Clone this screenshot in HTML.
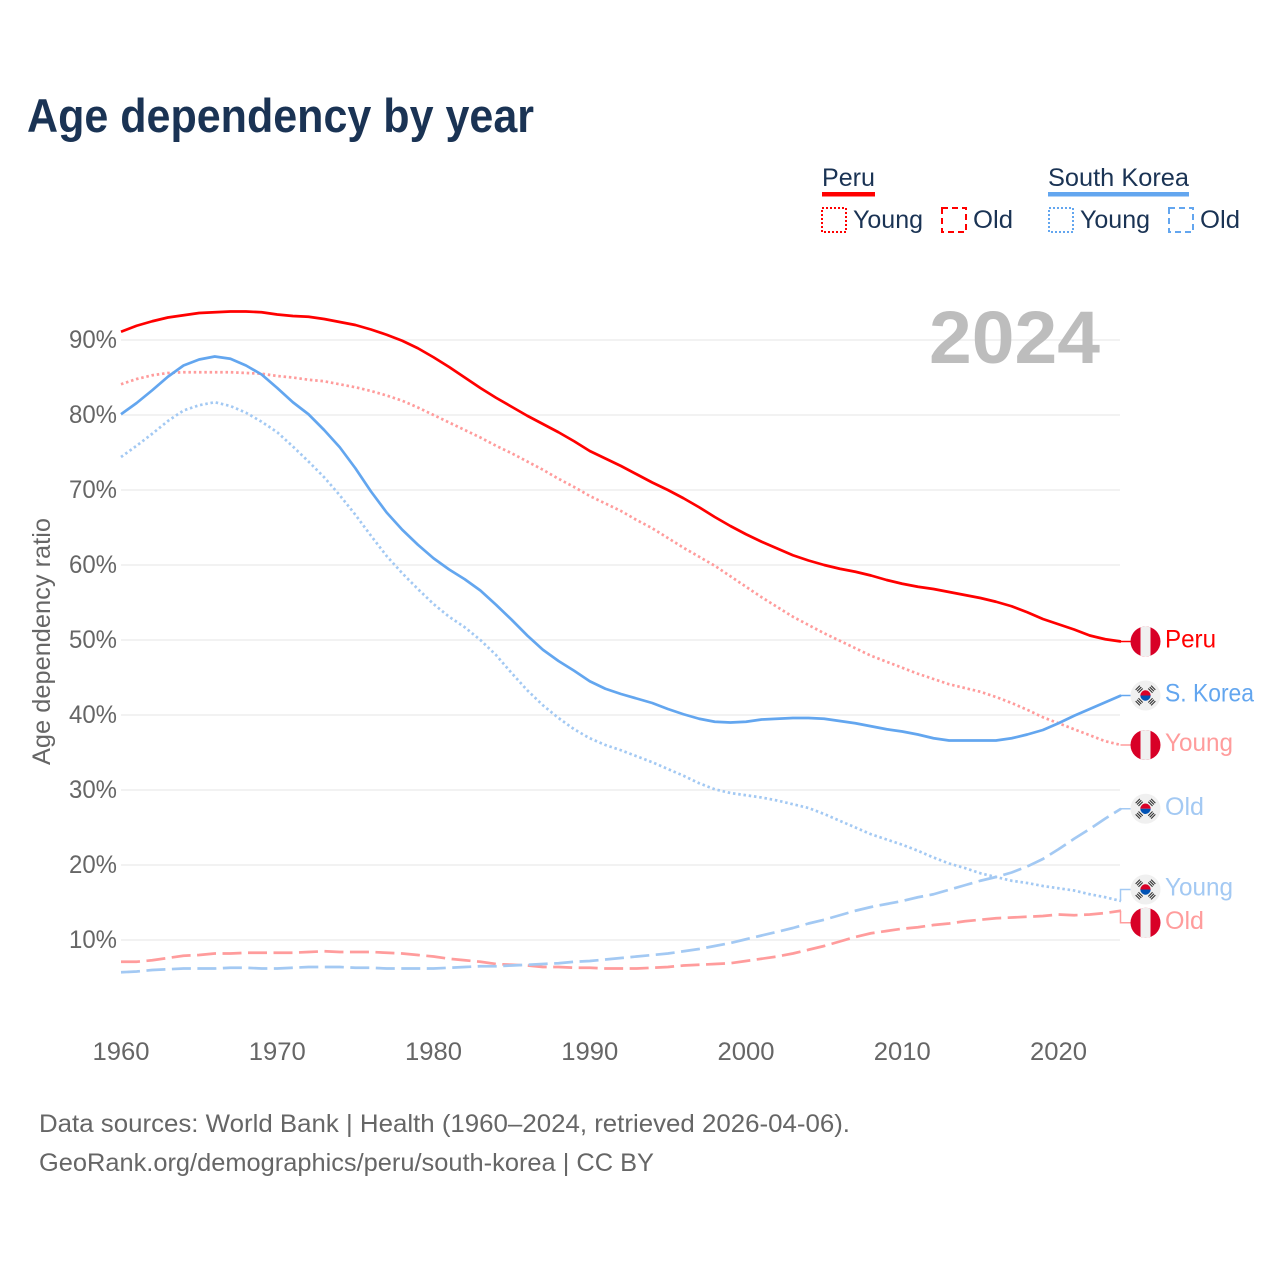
<!DOCTYPE html>
<html lang="en">
<head>
<meta charset="utf-8">
<title>Age dependency by year</title>
<style>
html,body{margin:0;padding:0;background:#fff;}
svg{display:block;font-family:"Liberation Sans",sans-serif;}
.grid{stroke:#eeeeee;stroke-width:1.5;}
.axis-text{fill:#666666;font-size:25px;}
.legend-text{fill:#1a3354;font-size:25px;}
.end-label{font-size:25px;}
</style>
</head>
<body>
<svg id="chart" xmlns="http://www.w3.org/2000/svg" width="1280" height="1280" viewBox="0 0 1280 1280">
  <rect width="1280" height="1280" fill="#ffffff"/>
  <text x="27" y="132" font-size="47" font-weight="700" fill="#1a3354" textLength="507" lengthAdjust="spacingAndGlyphs">Age dependency by year</text>

  <g>
    <g>
      <text class="legend-text" x="822" y="186" textLength="53" lengthAdjust="spacingAndGlyphs">Peru</text>
      <rect x="822" y="192" width="53" height="4.5" fill="#ff0000"/>
      <rect x="822" y="208" width="24" height="24" fill="none" stroke="#ff0000" stroke-width="2" stroke-dasharray="2 2"/>
      <text class="legend-text" x="853" y="228" textLength="70" lengthAdjust="spacingAndGlyphs">Young</text>
      <rect x="942" y="208" width="24" height="24" fill="none" stroke="#ff0000" stroke-width="2" stroke-dasharray="6 4"/>
      <text class="legend-text" x="973" y="228" textLength="40" lengthAdjust="spacingAndGlyphs">Old</text>
    </g>
    <g>
      <text class="legend-text" x="1048" y="186" textLength="141" lengthAdjust="spacingAndGlyphs">South Korea</text>
      <rect x="1048" y="192" width="141" height="4.5" fill="#63a6ef"/>
      <rect x="1049" y="208" width="24" height="24" fill="none" stroke="#63a6ef" stroke-width="2" stroke-dasharray="2 2"/>
      <text class="legend-text" x="1080" y="228" textLength="70" lengthAdjust="spacingAndGlyphs">Young</text>
      <rect x="1169" y="208" width="24" height="24" fill="none" stroke="#63a6ef" stroke-width="2" stroke-dasharray="6 4"/>
      <text class="legend-text" x="1200" y="228" textLength="40" lengthAdjust="spacingAndGlyphs">Old</text>
    </g>
  </g>

  <g id="grid-layer"></g>
  <text x="929" y="363" font-size="74" font-weight="700" fill="#bdbdbd" textLength="171" lengthAdjust="spacingAndGlyphs">2024</text>
  <g id="tick-layer"></g>
  <text class="axis-text" transform="translate(50,641.5) rotate(-90)" text-anchor="middle" textLength="247" lengthAdjust="spacingAndGlyphs">Age dependency ratio</text>
  <g id="series-layer"></g>
  <g id="label-layer"></g>

  <text class="axis-text" x="39" y="1132" textLength="811" lengthAdjust="spacingAndGlyphs">Data sources: World Bank | Health (1960–2024, retrieved 2026-04-06).</text>
  <text class="axis-text" x="39" y="1171" textLength="615" lengthAdjust="spacingAndGlyphs">GeoRank.org/demographics/peru/south-korea | CC BY</text>
</svg>

<script>
const firstYear = 1960;
const xTicks = [1960, 1970, 1980, 1990, 2000, 2010, 2020];
const yTicks = [10, 20, 30, 40, 50, 60, 70, 80, 90];

const peruTotal = [91.1,91.9,92.5,93.0,93.3,93.6,93.7,93.8,93.8,93.7,
  93.4,93.2,93.1,92.8,92.4,92.0,91.4,90.7,89.9,88.9,
  87.7,86.4,85.0,83.6,82.3,81.1,79.9,78.8,77.7,76.5,
  75.2,74.2,73.2,72.1,71.0,70.0,68.9,67.7,66.4,65.2,
  64.1,63.1,62.2,61.3,60.6,60.0,59.5,59.1,58.6,58.0,
  57.5,57.1,56.8,56.4,56.0,55.6,55.1,54.5,53.7,52.8,
  52.1,51.4,50.6,50.1,49.8];
const peruYoung = [84.1,84.8,85.3,85.6,85.7,85.7,85.7,85.7,85.6,85.5,
  85.2,85.0,84.7,84.5,84.1,83.7,83.2,82.6,81.9,81.0,
  80.0,79.0,78.0,77.0,75.9,74.9,73.8,72.7,71.5,70.4,
  69.2,68.2,67.2,66.0,64.9,63.6,62.3,61.1,59.9,58.5,
  57.1,55.7,54.4,53.1,52.0,50.9,49.9,48.9,47.9,47.1,
  46.3,45.5,44.8,44.1,43.6,43.1,42.4,41.6,40.7,39.7,
  38.9,38.1,37.3,36.5,36.0];
const peruOld = [7.1,7.1,7.3,7.6,7.9,8.0,8.2,8.2,8.3,8.3,
  8.3,8.3,8.4,8.5,8.4,8.4,8.4,8.3,8.2,8.0,
  7.8,7.5,7.3,7.1,6.8,6.7,6.6,6.4,6.4,6.3,
  6.3,6.2,6.2,6.2,6.3,6.4,6.6,6.7,6.8,6.9,
  7.2,7.5,7.8,8.2,8.7,9.2,9.8,10.4,10.9,11.2,
  11.5,11.7,12.0,12.2,12.5,12.7,12.9,13.0,13.1,13.2,
  13.4,13.3,13.4,13.6,13.9];
const koreaTotal = [80.1,81.6,83.3,85.1,86.6,87.4,87.8,87.5,86.6,85.4,
  83.6,81.7,80.1,78.0,75.7,72.9,69.8,67.0,64.7,62.7,
  60.9,59.4,58.1,56.6,54.7,52.7,50.6,48.7,47.2,45.9,
  44.5,43.5,42.8,42.2,41.6,40.8,40.1,39.5,39.1,39.0,
  39.1,39.4,39.5,39.6,39.6,39.5,39.2,38.9,38.5,38.1,
  37.8,37.4,36.9,36.6,36.6,36.6,36.6,36.9,37.4,38.0,
  38.9,39.9,40.8,41.7,42.6];
const koreaYoung = [74.4,75.9,77.5,79.2,80.6,81.3,81.7,81.2,80.3,79.1,
  77.7,75.8,73.8,71.7,69.3,66.7,63.9,61.2,58.9,56.8,
  54.8,53.1,51.7,50.0,48.0,45.6,43.3,41.3,39.6,38.1,
  36.9,36.0,35.3,34.5,33.7,32.8,31.9,30.9,30.1,29.6,
  29.3,29.0,28.6,28.1,27.6,26.8,25.9,25.0,24.1,23.4,
  22.7,21.9,21.0,20.2,19.6,18.9,18.4,17.9,17.6,17.2,
  16.9,16.6,16.1,15.7,15.2];
const koreaOld = [5.7,5.8,6.0,6.1,6.2,6.2,6.2,6.3,6.3,6.2,
  6.2,6.3,6.4,6.4,6.4,6.3,6.3,6.2,6.2,6.2,
  6.2,6.3,6.4,6.5,6.5,6.6,6.7,6.8,6.9,7.1,
  7.2,7.4,7.6,7.8,8.0,8.2,8.5,8.8,9.2,9.6,
  10.1,10.6,11.1,11.6,12.2,12.7,13.3,13.9,14.4,14.8,
  15.2,15.7,16.1,16.7,17.3,17.9,18.4,19.0,19.8,20.8,
  22.1,23.5,24.8,26.2,27.5];

const svgNS = 'http://www.w3.org/2000/svg';
const xScale = function (year) { return 121 + (year - firstYear) * 15.625; };
const yScale = function (value) { return 1015 - value * 7.5; };

function make(tag, attrs, parent) {
  const el = document.createElementNS(svgNS, tag);
  Object.keys(attrs).forEach(function (k) { el.setAttribute(k, attrs[k]); });
  parent.appendChild(el);
  return el;
}

const gridLayer = document.getElementById('grid-layer');
const tickLayer = document.getElementById('tick-layer');
const seriesLayer = document.getElementById('series-layer');
const labelLayer = document.getElementById('label-layer');

yTicks.forEach(function (tick) {
  const line = make('line', { x1: 121, x2: 1120, y1: yScale(tick), y2: yScale(tick), class: 'grid' }, gridLayer);
  
  
  const label = make('text', { x: 69, y: yScale(tick) + 8, class: 'axis-text', textLength: 48, lengthAdjust: 'spacingAndGlyphs' }, tickLayer);
  label.textContent = tick + '%';
  
  
});

xTicks.forEach(function (tick) {
  const label = make('text', { x: xScale(tick), y: 1060, class: 'axis-text', 'text-anchor': 'middle', textLength: 57, lengthAdjust: 'spacingAndGlyphs' }, tickLayer);
  label.textContent = tick;
  
  
});

const DOTTED = '2.5 2.8';
const DASHED = '19 6.5';
const RED = '#ff0000';
const BLUE = '#63a6ef';
const LIGHT_RED = '#ff9c9c';
const LIGHT_BLUE = '#a3c9f3';

function drawSeries(values, colour, dash, name) {
  const d = values.map(function (v, i) {
    return (i ? 'L' : 'M') + xScale(firstYear + i).toFixed(2) + ' ' + yScale(v).toFixed(2);
  }).join(' ');
  const attrs = { d: d, fill: 'none', stroke: colour, 'stroke-width': 2.7, 'stroke-linejoin': 'round' };
  if (dash) { attrs['stroke-dasharray'] = dash; }
  const path = make('path', attrs, seriesLayer);
  
  
}

drawSeries(peruOld, LIGHT_RED, DASHED, 'line-peru-old');
drawSeries(koreaOld, LIGHT_BLUE, DASHED, 'line-south-korea-old');
drawSeries(koreaYoung, LIGHT_BLUE, DOTTED, 'line-south-korea-young');
drawSeries(peruYoung, LIGHT_RED, DOTTED, 'line-peru-young');
drawSeries(koreaTotal, BLUE, null, 'line-south-korea-total');
drawSeries(peruTotal, RED, null, 'line-peru-total');

let flagCount = 0;
function drawPeruFlag(cy, parent) {
  const id = 'flag-clip-' + (flagCount++);
  const clip = make('clipPath', { id: id }, parent);
  make('circle', { cx: 1145.5, cy: cy, r: 15 }, clip);
  const g = make('g', { 'clip-path': 'url(#' + id + ')' }, parent);
  
  
  make('rect', { x: 1130, y: cy - 15, width: 31, height: 30, fill: '#d80027' }, g);
  make('rect', { x: 1140.5, y: cy - 15, width: 10, height: 30, fill: '#f0f0f0' }, g);
}

function drawKoreaFlag(cy, parent) {
  const g = make('g', {}, parent);
  
  
  make('circle', { cx: 1145.5, cy: cy, r: 15, fill: '#f0f0f0' }, g);
  make('path', { d: 'M' + (1140.3) + ' ' + cy + 'a5.2 5.2 0 0 1 10.4 0z', fill: '#d80027' }, g);
  make('path', { d: 'M' + (1140.3) + ' ' + cy + 'a5.2 5.2 0 0 0 10.4 0z', fill: '#0052b4' }, g);
  [45, 135, 225, 315].forEach(function (angle) {
    const bars = make('g', { transform: 'translate(1145.5 ' + cy + ') rotate(' + angle + ')' }, g);
    [-11.5, -9.5, -7.5].forEach(function (offset) {
      make('rect', { x: -3, y: offset, width: 6, height: 1.1, fill: '#333333' }, bars);
    });
  });
}

function drawEndLabel(text, values, colour, flagFn, dodge, width, name) {
  const endY = yScale(values[values.length - 1]);
  const cy = endY + dodge;
  const d = dodge === 0
    ? 'M1120.5 ' + endY + 'L1131 ' + endY
    : 'M1120.5 ' + endY + 'L1120.5 ' + cy + 'L1131 ' + cy;
  const conn = make('path', { d: d, fill: 'none', stroke: colour, 'stroke-width': 1.5 }, labelLayer);
  
  
  flagFn(cy, labelLayer);
  const label = make('text', { x: 1165, y: cy + 6, fill: colour, class: 'end-label', textLength: width, lengthAdjust: 'spacingAndGlyphs' }, labelLayer);
  label.textContent = text;
  
  
}

drawEndLabel('Peru', peruTotal, RED, drawPeruFlag, 0, 51, 'end-label-peru');
drawEndLabel('S. Korea', koreaTotal, BLUE, drawKoreaFlag, 0, 89, 'end-label-south-korea');
drawEndLabel('Young', peruYoung, LIGHT_RED, drawPeruFlag, 0, 68, 'end-label-peru-young');
drawEndLabel('Old', koreaOld, LIGHT_BLUE, drawKoreaFlag, 0, 39, 'end-label-south-korea-old');
drawEndLabel('Young', koreaYoung, LIGHT_BLUE, drawKoreaFlag, -11.5, 68, 'end-label-south-korea-young');
drawEndLabel('Old', peruOld, LIGHT_RED, drawPeruFlag, 12, 39, 'end-label-peru-old');
</script>
</body>
</html>
